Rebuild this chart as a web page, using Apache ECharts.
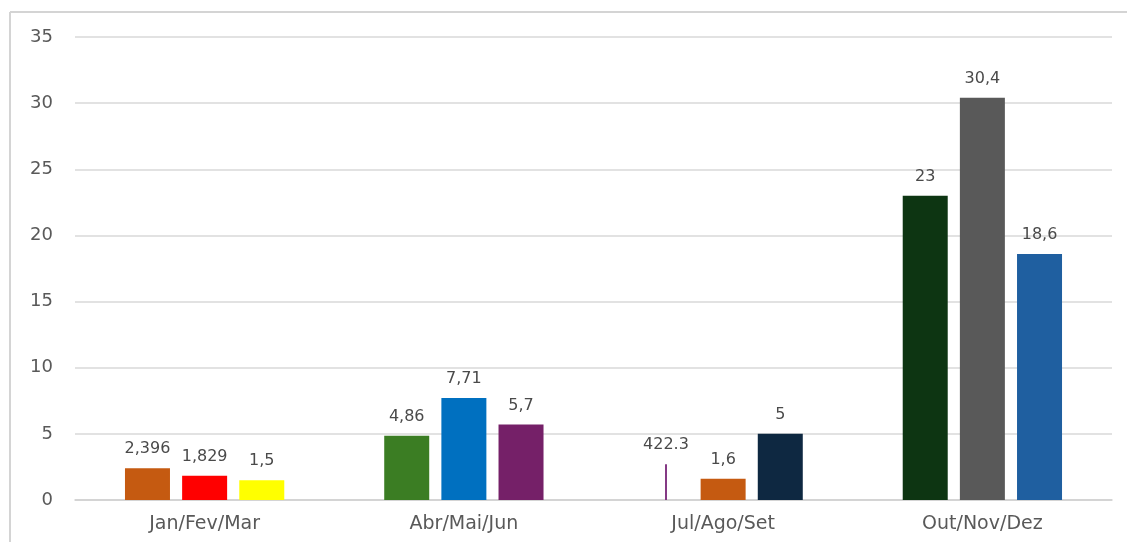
<!DOCTYPE html>
<html>
<head>
<meta charset="utf-8">
<script src="https://cdn.jsdelivr.net/npm/echarts@6/dist/echarts.min.js"></script>
<style>
html,body{margin:0;padding:0;background:#fff;}
#chart{width:1127px;height:542px;}
</style>
</head>
<body>
<div id="chart"></div>
<script>
const categories = ['Jan/Fev/Mar', 'Abr/Mai/Jun', 'Jul/Ago/Set', 'Out/Nov/Dez'];
const yTicks = [0, 5, 10, 15, 20, 25, 30, 35];
// bar heights as drawn in the picture
const serie1 = [2.396, 4.86, 2.7, 23];
const serie2 = [1.829, 7.71, 1.6, 30.4];
const serie3 = [1.5, 5.7, 5, 18.6];
// labels as printed in the picture
const labels1 = ['2,396', '4,86', '422.3', '23'];
const labels2 = ['1,829', '7,71', '1,6', '30,4'];
const labels3 = ['1,5', '5,7', '5', '18,6'];
const colors1 = ['#C55A11', '#3B7D23', '#853A85', '#0D3512'];
const colors2 = ['#FF0000', '#0070C0', '#C55A11', '#595959'];
const colors3 = ['#FFFF00', '#752068', '#0E2841', '#1F5FA0'];

function stripe(c) {
  return new echarts.graphic.LinearGradient(0, 0, 1, 0, [
    {offset: 0, color: 'rgba(0,0,0,0)'},
    {offset: 0.475, color: 'rgba(0,0,0,0)'},
    {offset: 0.476, color: c},
    {offset: 0.52, color: c},
    {offset: 0.521, color: 'rgba(0,0,0,0)'},
    {offset: 1, color: 'rgba(0,0,0,0)'}
  ]);
}

function build(values, colors, labels, thinIndex) {
  return values.map((v, i) => ({
    value: v,
    itemStyle: {color: i === thinIndex ? stripe(colors[i]) : colors[i]},
    label: {formatter: labels[i]}
  }));
}

const FONT = 'DejaVu Sans';
const labelStyle = {show: true, position: 'top', distance: 11, color: '#4a4a4a', fontSize: 16, fontFamily: FONT};

const chart = echarts.init(document.getElementById('chart'), null, {renderer: 'canvas'});
chart.setOption({
  animation: false,
  backgroundColor: '#fff',
  graphic: [
    {type: 'line', shape: {x1: 10, y1: 12, x2: 1127, y2: 12}, style: {stroke: '#d4d4d4', lineWidth: 2}},
    {type: 'line', shape: {x1: 10, y1: 12, x2: 10, y2: 542}, style: {stroke: '#d4d4d4', lineWidth: 2}}
  ],
  grid: {left: 75, right: 15, top: 37, bottom: 42},
  xAxis: {
    type: 'category',
    data: categories,
    axisLine: {lineStyle: {color: '#d0d0d0', width: 1.5}},
    axisTick: {show: false},
    axisLabel: {color: '#595959', fontSize: 19, fontFamily: FONT, margin: 15}
  },
  yAxis: {
    type: 'value',
    min: yTicks[0],
    max: yTicks[yTicks.length - 1],
    interval: 5,
    axisLine: {show: false},
    axisTick: {show: false},
    axisLabel: {color: '#595959', fontSize: 18, fontFamily: FONT, margin: 22},
    splitLine: {lineStyle: {color: '#d9d9d9', width: 1.5}}
  },
  series: [
    {type: 'bar', data: build(serie1, colors1, labels1, 2), barWidth: 45, barGap: '27%', barCategoryGap: '38%', label: labelStyle},
    {type: 'bar', data: build(serie2, colors2, labels2, -1), barWidth: 45, label: labelStyle},
    {type: 'bar', data: build(serie3, colors3, labels3, -1), barWidth: 45, label: labelStyle}
  ]
});
</script>
</body>
</html>
